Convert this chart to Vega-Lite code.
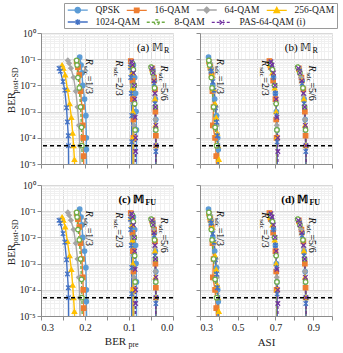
{
"$schema":"https://vega.github.io/schema/vega-lite/v6.json",
"padding":{"left":5,"right":5,"top":2,"bottom":3},
"config":{"font":"Liberation Serif","view":{"stroke":null},
 "legend":{"labelFont":"Liberation Serif","labelFontSize":9.5,"labelColor":"#222","symbolSize":25,"symbolOffset":7,"labelOffset":13,"columnPadding":3,"rowPadding":0,"symbolStrokeWidth":1.4,"padding":2},
 "axis":{"labelFont":"Liberation Serif","titleFont":"Liberation Serif","labelFontSize":10,"titleFontSize":11,"titleFontWeight":"normal","labelColor":"#222","titleColor":"#222","domainColor":"#8c8c8c","tickColor":"#8c8c8c","gridColor":"#d9d9d9","tickSize":4}},
"datasets":{
"d":[
{"s":"QPSK","r":"1/3","pre":0.212,"asi":0.345,"p":0.12},{"s":"QPSK","r":"1/3","pre":0.209,"asi":0.352,"p":0.06},{"s":"QPSK","r":"1/3","pre":0.207,"asi":0.36,"p":0.03},{"s":"QPSK","r":"1/3","pre":0.205,"asi":0.368,"p":0.01},{"s":"QPSK","r":"1/3","pre":0.201,"asi":0.378,"p":0.003},{"s":"QPSK","r":"1/3","pre":0.198,"asi":0.388,"p":0.0007},{"s":"QPSK","r":"1/3","pre":0.197,"asi":0.394,"p":0.0001},{"s":"QPSK","r":"1/3","pre":0.197,"asi":0.397,"p":0.000036},{"s":"QPSK","r":"1/3","pre":0.196,"asi":0.399,"p":0.000005},
{"s":"16-QAM","r":"1/3","pre":0.219,"asi":0.348,"p":0.08},{"s":"16-QAM","r":"1/3","pre":0.216,"asi":0.355,"p":0.05},{"s":"16-QAM","r":"1/3","pre":0.213,"asi":0.362,"p":0.025},{"s":"16-QAM","r":"1/3","pre":0.21,"asi":0.366,"p":0.006},{"s":"16-QAM","r":"1/3","pre":0.207,"asi":0.372,"p":0.0015},{"s":"16-QAM","r":"1/3","pre":0.205,"asi":0.368,"p":0.0003},{"s":"16-QAM","r":"1/3","pre":0.204,"asi":0.38,"p":0.0001},{"s":"16-QAM","r":"1/3","pre":0.203,"asi":0.386,"p":0.00002},{"s":"16-QAM","r":"1/3","pre":0.203,"asi":0.39,"p":0.000005},
{"s":"64-QAM","r":"1/3","pre":0.239,"asi":0.35,"p":0.09},{"s":"64-QAM","r":"1/3","pre":0.236,"asi":0.355,"p":0.07},{"s":"64-QAM","r":"1/3","pre":0.232,"asi":0.361,"p":0.045},{"s":"64-QAM","r":"1/3","pre":0.226,"asi":0.368,"p":0.02},{"s":"64-QAM","r":"1/3","pre":0.221,"asi":0.376,"p":0.006},{"s":"64-QAM","r":"1/3","pre":0.217,"asi":0.384,"p":0.0015},{"s":"64-QAM","r":"1/3","pre":0.214,"asi":0.39,"p":0.0003},{"s":"64-QAM","r":"1/3","pre":0.212,"asi":0.394,"p":0.00005},{"s":"64-QAM","r":"1/3","pre":0.211,"asi":0.396,"p":0.000005},
{"s":"256-QAM","r":"1/3","pre":0.252,"asi":0.352,"p":0.06},{"s":"256-QAM","r":"1/3","pre":0.249,"asi":0.357,"p":0.045},{"s":"256-QAM","r":"1/3","pre":0.245,"asi":0.363,"p":0.025},{"s":"256-QAM","r":"1/3","pre":0.24,"asi":0.372,"p":0.007},{"s":"256-QAM","r":"1/3","pre":0.235,"asi":0.38,"p":0.002},{"s":"256-QAM","r":"1/3","pre":0.231,"asi":0.386,"p":0.0006},{"s":"256-QAM","r":"1/3","pre":0.228,"asi":0.392,"p":0.00015},{"s":"256-QAM","r":"1/3","pre":0.226,"asi":0.396,"p":0.00005},{"s":"256-QAM","r":"1/3","pre":0.224,"asi":0.4,"p":0.000015},{"s":"256-QAM","r":"1/3","pre":0.223,"asi":0.401,"p":0.000005},
{"s":"1024-QAM","r":"1/3","pre":0.259,"asi":0.356,"p":0.045},{"s":"1024-QAM","r":"1/3","pre":0.256,"asi":0.36,"p":0.035},{"s":"1024-QAM","r":"1/3","pre":0.25,"asi":0.368,"p":0.014},{"s":"1024-QAM","r":"1/3","pre":0.246,"asi":0.374,"p":0.0066},{"s":"1024-QAM","r":"1/3","pre":0.242,"asi":0.382,"p":0.0014},{"s":"1024-QAM","r":"1/3","pre":0.24,"asi":0.388,"p":0.0004},{"s":"1024-QAM","r":"1/3","pre":0.238,"asi":0.392,"p":0.00012},{"s":"1024-QAM","r":"1/3","pre":0.2375,"asi":0.395,"p":0.00005},{"s":"1024-QAM","r":"1/3","pre":0.237,"asi":0.397,"p":0.000005},
{"s":"8-QAM","r":"1/3","pre":0.219,"asi":0.347,"p":0.09},{"s":"8-QAM","r":"1/3","pre":0.218,"asi":0.351,"p":0.06},{"s":"8-QAM","r":"1/3","pre":0.216,"asi":0.36,"p":0.02},{"s":"8-QAM","r":"1/3","pre":0.213,"asi":0.364,"p":0.008},{"s":"8-QAM","r":"1/3","pre":0.21,"asi":0.372,"p":0.0015},{"s":"8-QAM","r":"1/3","pre":0.208,"asi":0.38,"p":0.00025},{"s":"8-QAM","r":"1/3","pre":0.207,"asi":0.388,"p":0.00005},{"s":"8-QAM","r":"1/3","pre":0.206,"asi":0.392,"p":0.000005},
{"s":"QPSK","r":"2/3","pre":0.09,"asi":0.676,"p":0.06},{"s":"QPSK","r":"2/3","pre":0.087,"asi":0.69,"p":0.02},{"s":"QPSK","r":"2/3","pre":0.085,"asi":0.7,"p":0.005},{"s":"QPSK","r":"2/3","pre":0.084,"asi":0.705,"p":0.001},{"s":"QPSK","r":"2/3","pre":0.083,"asi":0.708,"p":0.0002},{"s":"QPSK","r":"2/3","pre":0.083,"asi":0.71,"p":0.000005},
{"s":"16-QAM","r":"2/3","pre":0.096,"asi":0.668,"p":0.085},{"s":"16-QAM","r":"2/3","pre":0.094,"asi":0.675,"p":0.05},{"s":"16-QAM","r":"2/3","pre":0.092,"asi":0.688,"p":0.015},{"s":"16-QAM","r":"2/3","pre":0.091,"asi":0.7,"p":0.003},{"s":"16-QAM","r":"2/3","pre":0.09,"asi":0.704,"p":0.0005},{"s":"16-QAM","r":"2/3","pre":0.09,"asi":0.706,"p":0.0001},{"s":"16-QAM","r":"2/3","pre":0.09,"asi":0.708,"p":0.000005},
{"s":"64-QAM","r":"2/3","pre":0.095,"asi":0.67,"p":0.075},{"s":"64-QAM","r":"2/3","pre":0.093,"asi":0.68,"p":0.04},{"s":"64-QAM","r":"2/3","pre":0.091,"asi":0.692,"p":0.01},{"s":"64-QAM","r":"2/3","pre":0.09,"asi":0.702,"p":0.002},{"s":"64-QAM","r":"2/3","pre":0.089,"asi":0.707,"p":0.0003},{"s":"64-QAM","r":"2/3","pre":0.089,"asi":0.709,"p":0.000005},
{"s":"256-QAM","r":"2/3","pre":0.095,"asi":0.672,"p":0.06},{"s":"256-QAM","r":"2/3","pre":0.093,"asi":0.684,"p":0.03},{"s":"256-QAM","r":"2/3","pre":0.092,"asi":0.696,"p":0.008},{"s":"256-QAM","r":"2/3","pre":0.091,"asi":0.704,"p":0.001},{"s":"256-QAM","r":"2/3","pre":0.091,"asi":0.708,"p":0.0001},{"s":"256-QAM","r":"2/3","pre":0.091,"asi":0.709,"p":0.000005},
{"s":"1024-QAM","r":"2/3","pre":0.097,"asi":0.678,"p":0.05},{"s":"1024-QAM","r":"2/3","pre":0.096,"asi":0.69,"p":0.02},{"s":"1024-QAM","r":"2/3","pre":0.095,"asi":0.7,"p":0.005},{"s":"1024-QAM","r":"2/3","pre":0.094,"asi":0.706,"p":0.0007},{"s":"1024-QAM","r":"2/3","pre":0.094,"asi":0.709,"p":0.00007},{"s":"1024-QAM","r":"2/3","pre":0.094,"asi":0.71,"p":0.000005},
{"s":"8-QAM","r":"2/3","pre":0.092,"asi":0.674,"p":0.07},{"s":"8-QAM","r":"2/3","pre":0.09,"asi":0.684,"p":0.04},{"s":"8-QAM","r":"2/3","pre":0.088,"asi":0.696,"p":0.01},{"s":"8-QAM","r":"2/3","pre":0.087,"asi":0.704,"p":0.002},{"s":"8-QAM","r":"2/3","pre":0.086,"asi":0.708,"p":0.0002},{"s":"8-QAM","r":"2/3","pre":0.086,"asi":0.71,"p":0.000005},
{"s":"PAS-64-QAM (i)","r":"2/3","pre":0.094,"asi":0.676,"p":0.08},{"s":"PAS-64-QAM (i)","r":"2/3","pre":0.092,"asi":0.682,"p":0.06},{"s":"PAS-64-QAM (i)","r":"2/3","pre":0.09,"asi":0.69,"p":0.03},{"s":"PAS-64-QAM (i)","r":"2/3","pre":0.088,"asi":0.698,"p":0.01},{"s":"PAS-64-QAM (i)","r":"2/3","pre":0.087,"asi":0.704,"p":0.003},{"s":"PAS-64-QAM (i)","r":"2/3","pre":0.086,"asi":0.708,"p":0.0006},{"s":"PAS-64-QAM (i)","r":"2/3","pre":0.085,"asi":0.712,"p":0.0001},{"s":"PAS-64-QAM (i)","r":"2/3","pre":0.085,"asi":0.713,"p":0.00003},{"s":"PAS-64-QAM (i)","r":"2/3","pre":0.085,"asi":0.713,"p":0.000005},
{"s":"QPSK","r":"5/6","pre":0.046,"asi":0.826,"p":0.04},{"s":"QPSK","r":"5/6","pre":0.042,"asi":0.842,"p":0.015},{"s":"QPSK","r":"5/6","pre":0.04,"asi":0.852,"p":0.003},{"s":"QPSK","r":"5/6","pre":0.039,"asi":0.858,"p":0.0005},{"s":"QPSK","r":"5/6","pre":0.038,"asi":0.862,"p":0.00005},{"s":"QPSK","r":"5/6","pre":0.038,"asi":0.863,"p":0.000005},
{"s":"16-QAM","r":"5/6","pre":0.047,"asi":0.824,"p":0.045},{"s":"16-QAM","r":"5/6","pre":0.043,"asi":0.838,"p":0.02},{"s":"16-QAM","r":"5/6","pre":0.041,"asi":0.848,"p":0.007},{"s":"16-QAM","r":"5/6","pre":0.04,"asi":0.856,"p":0.001},{"s":"16-QAM","r":"5/6","pre":0.039,"asi":0.86,"p":0.00012},{"s":"16-QAM","r":"5/6","pre":0.039,"asi":0.862,"p":0.000005},
{"s":"64-QAM","r":"5/6","pre":0.048,"asi":0.822,"p":0.05},{"s":"64-QAM","r":"5/6","pre":0.044,"asi":0.836,"p":0.02},{"s":"64-QAM","r":"5/6","pre":0.041,"asi":0.85,"p":0.004},{"s":"64-QAM","r":"5/6","pre":0.04,"asi":0.857,"p":0.0005},{"s":"64-QAM","r":"5/6","pre":0.039,"asi":0.861,"p":0.00005},{"s":"64-QAM","r":"5/6","pre":0.039,"asi":0.862,"p":0.000005},
{"s":"256-QAM","r":"5/6","pre":0.047,"asi":0.825,"p":0.04},{"s":"256-QAM","r":"5/6","pre":0.043,"asi":0.84,"p":0.015},{"s":"256-QAM","r":"5/6","pre":0.041,"asi":0.851,"p":0.003},{"s":"256-QAM","r":"5/6","pre":0.04,"asi":0.857,"p":0.0003},{"s":"256-QAM","r":"5/6","pre":0.039,"asi":0.861,"p":0.00005},{"s":"256-QAM","r":"5/6","pre":0.039,"asi":0.862,"p":0.000005},
{"s":"1024-QAM","r":"5/6","pre":0.046,"asi":0.828,"p":0.035},{"s":"1024-QAM","r":"5/6","pre":0.043,"asi":0.841,"p":0.012},{"s":"1024-QAM","r":"5/6","pre":0.041,"asi":0.852,"p":0.002},{"s":"1024-QAM","r":"5/6","pre":0.04,"asi":0.858,"p":0.0002},{"s":"1024-QAM","r":"5/6","pre":0.039,"asi":0.861,"p":0.00003},{"s":"1024-QAM","r":"5/6","pre":0.039,"asi":0.862,"p":0.000005},
{"s":"8-QAM","r":"5/6","pre":0.05,"asi":0.818,"p":0.05},{"s":"8-QAM","r":"5/6","pre":0.046,"asi":0.83,"p":0.03},{"s":"8-QAM","r":"5/6","pre":0.042,"asi":0.846,"p":0.008},{"s":"8-QAM","r":"5/6","pre":0.04,"asi":0.855,"p":0.0015},{"s":"8-QAM","r":"5/6","pre":0.039,"asi":0.86,"p":0.0002},{"s":"8-QAM","r":"5/6","pre":0.039,"asi":0.862,"p":0.000005},
{"s":"PAS-64-QAM (i)","r":"5/6","pre":0.048,"asi":0.822,"p":0.045},{"s":"PAS-64-QAM (i)","r":"5/6","pre":0.045,"asi":0.83,"p":0.03},{"s":"PAS-64-QAM (i)","r":"5/6","pre":0.043,"asi":0.84,"p":0.015},{"s":"PAS-64-QAM (i)","r":"5/6","pre":0.041,"asi":0.849,"p":0.005},{"s":"PAS-64-QAM (i)","r":"5/6","pre":0.04,"asi":0.855,"p":0.0015},{"s":"PAS-64-QAM (i)","r":"5/6","pre":0.039,"asi":0.859,"p":0.0003},{"s":"PAS-64-QAM (i)","r":"5/6","pre":0.039,"asi":0.862,"p":0.00005},{"s":"PAS-64-QAM (i)","r":"5/6","pre":0.039,"asi":0.863,"p":0.000005}
],
"thr":[{"t":0.00005}],
"lab":[{"r":"1/3","rv":"=1/3","pre":0.191,"asi":0.406,"p":0.105},{"r":"2/3","rv":"=2/3","pre":0.122,"asi":0.644,"p":0.091},{"r":"5/6","rv":"=5/6","pre":0.02,"asi":0.895,"p":0.058}],
"pl":[{"panel":"a","t":"(a) 𝕄","sub":"R","pre":0.023,"p":0.27},{"panel":"b","t":"(b) 𝕄","sub":"R","asi":0.891,"p":0.27},{"panel":"c","t":"(c) 𝕄","sub":"FU","pre":0.065,"p":0.27},{"panel":"d","t":"(d) 𝕄","sub":"FU","asi":0.875,"p":0.27}]
},
"columns":2,
"spacing":{"row":21,"column":27},
"bounds":"flush",
"concat":[
{"width":132,"height":131,"resolve":{"axis":{"x":"independent","y":"independent"}},
"layer":[
{"data":{"name":"d"},"mark":{"type":"line","strokeWidth":1.4,"clip":true},
"encoding":{"x":{"field":"pre","type":"quantitative","scale":{"domain":[0,0.3],"reverse":true,"nice":false,"zero":false},"axis":{"orient":"bottom","values":[0,0.05,0.1,0.15,0.2,0.25,0.3],"labels":false,"title":null,"grid":true}},
"y":{"field":"p","type":"quantitative","scale":{"type":"log","domain":[0.00001,1],"nice":false},"axis":{"orient":"left","values":[0.00001,0.0001,0.001,0.01,0.1,1],"labelExpr":"['10⁻⁵','10⁻⁴','10⁻³','10⁻²','10⁻¹','10⁰'][round(log(datum.value)/LN10)+5]","labelFontSize":9.5,"grid":true,"title":"BER","titleX":-30,"titleY":69,"titleBaseline":"middle","titleAngle":-90}},
"color":{"field":"s","type":"nominal","scale":{"domain":["QPSK","16-QAM","64-QAM","256-QAM","1024-QAM","8-QAM","PAS-64-QAM (i)"],"range":["#5B9BD5","#ED7D31","#A5A5A5","#FFC000","#4472C4","#70AD47","#7030A0"]},
"legend":{"orient":"none","legendX":23,"legendY":-30,"direction":"horizontal","values":["QPSK","16-QAM","64-QAM","256-QAM"],"title":" ","titleOrient":"bottom","titleFontSize":8,"titlePadding":2,"strokeColor":"#9a9a9a",
"encoding":{"symbols":{
"shape":{"value":{"expr":"({'QPSK':'M-4,0H4M1.05,0A1.05,1.05,0,1,1,-1.05,0A1.05,1.05,0,1,1,1.05,0Z','16-QAM':'M-4,0H4M-0.9,-0.9H0.9V0.9H-0.9Z','64-QAM':'M-4,0H4M0,-1.15L1.15,0L0,1.15L-1.15,0Z','256-QAM':'M-4,0H4M0,-1.15L1.1,0.9H-1.1Z'})[datum.value]"}},
"fill":{"value":{"expr":"({'QPSK':'#5B9BD5','16-QAM':'#ED7D31','64-QAM':'#A5A5A5','256-QAM':'#FFC000'})[datum.value]"}},
"strokeDash":{"value":[1,0]},
"strokeWidth":{"value":1.4},
"opacity":{"value":1}}}}},
"strokeDash":{"field":"s","type":"nominal","scale":{"domain":["1024-QAM","16-QAM","256-QAM","64-QAM","8-QAM","PAS-64-QAM (i)","QPSK"],"range":[[1,0],[1,0],[1,0],[1,0],[3,2],[3,2],[1,0]]},
"legend":{"orient":"none","legendX":23,"legendY":-18,"direction":"horizontal","values":["1024-QAM","8-QAM","PAS-64-QAM (i)"],"title":null,
"encoding":{"symbols":{
"shape":{"value":{"expr":"({'1024-QAM':'M-4,0H4M-0.85,-0.85L0.85,0.85M-0.85,0.85L0.85,-0.85M0,-1.15V1.15','8-QAM':'M-4,0H4M1,0A1,1,0,1,1,-1,0A1,1,0,1,1,1,0Z','PAS-64-QAM (i)':'M-4,0H4M-0.85,-0.85L0.85,0.85M-0.85,0.85L0.85,-0.85'})[datum.value]"}},
"fill":{"value":{"expr":"datum.value==='8-QAM' ? 'white' : ({'1024-QAM':'#4472C4','PAS-64-QAM (i)':'#7030A0'})[datum.value]"}},
"stroke":{"value":{"expr":"({'1024-QAM':'#4472C4','8-QAM':'#70AD47','PAS-64-QAM (i)':'#7030A0'})[datum.value]"}},
"strokeWidth":{"value":1.4},
"opacity":{"value":1}}}}},
"detail":{"field":"r"},"order":{"field":"p","type":"quantitative"}}},
{"data":{"name":"d"},"mark":{"type":"point","filled":false,"size":20,"strokeWidth":1.2,"opacity":1,"clip":true},
"encoding":{"x":{"field":"pre","type":"quantitative","axis":{"orient":"bottom","values":[0.01,0.02,0.03,0.04,0.06,0.07,0.08,0.09,0.11,0.12,0.13,0.14,0.16,0.17,0.18,0.19,0.21,0.22,0.23,0.24,0.26,0.27,0.28,0.29],"labels":false,"ticks":false,"domain":false,"grid":true,"gridColor":"#f0f0f0","title":null}},
"y":{"field":"p","type":"quantitative","axis":{"orient":"left","values":[0.00002,0.00003,0.00004,0.00005,0.00006,0.00007,0.00008,0.00009,0.0002,0.0003,0.0004,0.0005,0.0006,0.0007,0.0008,0.0009,0.002,0.003,0.004,0.005,0.006,0.007,0.008,0.009,0.02,0.03,0.04,0.05,0.06,0.07,0.08,0.09,0.2,0.3,0.4,0.5,0.6,0.7,0.8,0.9],"labels":false,"ticks":false,"domain":false,"grid":true,"gridColor":"#f0f0f0","title":"post-SD","titleFontSize":8,"titleX":-26,"titleY":47,"titleBaseline":"middle","titleAngle":-90}},
"color":{"field":"s","type":"nominal","legend":null},
"shape":{"field":"s","type":"nominal","scale":{"domain":["QPSK","PAS-64-QAM (i)","8-QAM","64-QAM","256-QAM","16-QAM","1024-QAM"],"range":["circle","M-1,-1L1,1M-1,1L1,-1","circle","diamond","triangle-up","square","M-1,-1L1,1M-1,1L1,-1M0,-1.3V1.3"]},"legend":null},
"fill":{"field":"s","type":"nominal","scale":{"domain":["8-QAM","QPSK","16-QAM","64-QAM","256-QAM","1024-QAM","PAS-64-QAM (i)"],"range":["#ffffff","#5B9BD5","#ED7D31","#A5A5A5","#FFC000","#4472C4","#7030A0"]},"legend":null}}},
{"data":{"name":"thr"},"mark":{"type":"rule","color":"black","strokeDash":[4,3],"strokeWidth":1.4},"encoding":{"y":{"field":"t","type":"quantitative","axis":null}}},
{"data":{"name":"lab"},"mark":{"type":"text","angle":90,"align":"left","baseline":"middle","fontSize":10,"fontStyle":"italic"},"encoding":{"x":{"field":"pre","type":"quantitative","axis":null},"y":{"field":"p","type":"quantitative","axis":null},"text":{"value":"R"}}},
{"data":{"name":"lab"},"mark":{"type":"text","angle":90,"align":"left","baseline":"middle","fontSize":7,"dx":7,"dy":3},"encoding":{"x":{"field":"pre","type":"quantitative","axis":null},"y":{"field":"p","type":"quantitative","axis":null},"text":{"value":"sdc"}}},
{"data":{"name":"lab"},"mark":{"type":"text","angle":90,"align":"left","baseline":"middle","fontSize":10,"dx":17},"encoding":{"x":{"field":"pre","type":"quantitative","axis":null},"y":{"field":"p","type":"quantitative","axis":null},"text":{"field":"rv"}}},
{"data":{"name":"pl"},"transform":[{"filter":"datum.panel==='a'"}],"mark":{"type":"text","align":"right","baseline":"middle","fontSize":11},"encoding":{"x":{"field":"pre","type":"quantitative","axis":null},"y":{"field":"p","type":"quantitative","axis":null},"text":{"field":"t"}}},
{"data":{"name":"pl"},"transform":[{"filter":"datum.panel==='a'"}],"mark":{"type":"text","align":"left","baseline":"middle","fontSize":8,"dx":1,"dy":3},"encoding":{"x":{"field":"pre","type":"quantitative","axis":null},"y":{"field":"p","type":"quantitative","axis":null},"text":{"field":"sub"}}}
]},
{"width":132,"height":131,"resolve":{"axis":{"x":"independent","y":"independent"}},
"layer":[
{"data":{"name":"d"},"mark":{"type":"line","strokeWidth":1.4,"clip":true},
"encoding":{"x":{"field":"asi","type":"quantitative","scale":{"domain":[0.3,1.0],"nice":false,"zero":false},"axis":{"orient":"bottom","values":[0.3,0.4,0.5,0.6,0.7,0.8,0.9,1.0],"labels":false,"title":null,"grid":true}},
"y":{"field":"p","type":"quantitative","scale":{"type":"log","domain":[0.00001,1],"nice":false},"axis":{"orient":"left","values":[0.00001,0.0001,0.001,0.01,0.1,1],"labels":false,"grid":true,"title":null}},
"color":{"field":"s","type":"nominal","legend":null},
"strokeDash":{"field":"s","type":"nominal","legend":null},
"detail":{"field":"r"},"order":{"field":"p","type":"quantitative"}}},
{"data":{"name":"d"},"mark":{"type":"point","filled":false,"size":20,"strokeWidth":1.2,"opacity":1,"clip":true},
"encoding":{"x":{"field":"asi","type":"quantitative","axis":{"orient":"bottom","values":[0.32,0.34,0.36,0.38,0.42,0.44,0.46,0.48,0.52,0.54,0.56,0.58,0.62,0.64,0.66,0.68,0.72,0.74,0.76,0.78,0.82,0.84,0.86,0.88,0.92,0.94,0.96,0.98],"labels":false,"ticks":false,"domain":false,"grid":true,"gridColor":"#f0f0f0","title":null}},
"y":{"field":"p","type":"quantitative","axis":{"orient":"left","values":[0.00002,0.00003,0.00004,0.00005,0.00006,0.00007,0.00008,0.00009,0.0002,0.0003,0.0004,0.0005,0.0006,0.0007,0.0008,0.0009,0.002,0.003,0.004,0.005,0.006,0.007,0.008,0.009,0.02,0.03,0.04,0.05,0.06,0.07,0.08,0.09,0.2,0.3,0.4,0.5,0.6,0.7,0.8,0.9],"labels":false,"ticks":false,"domain":false,"grid":true,"gridColor":"#f0f0f0","title":null}},
"color":{"field":"s","type":"nominal","legend":null},
"shape":{"field":"s","type":"nominal","legend":null},
"fill":{"field":"s","type":"nominal","legend":null}}},
{"data":{"name":"thr"},"mark":{"type":"rule","color":"black","strokeDash":[4,3],"strokeWidth":1.4},"encoding":{"y":{"field":"t","type":"quantitative","axis":null}}},
{"data":{"name":"lab"},"mark":{"type":"text","angle":90,"align":"left","baseline":"middle","fontSize":10,"fontStyle":"italic"},"encoding":{"x":{"field":"asi","type":"quantitative","axis":null},"y":{"field":"p","type":"quantitative","axis":null},"text":{"value":"R"}}},
{"data":{"name":"lab"},"mark":{"type":"text","angle":90,"align":"left","baseline":"middle","fontSize":7,"dx":7,"dy":3},"encoding":{"x":{"field":"asi","type":"quantitative","axis":null},"y":{"field":"p","type":"quantitative","axis":null},"text":{"value":"sdc"}}},
{"data":{"name":"lab"},"mark":{"type":"text","angle":90,"align":"left","baseline":"middle","fontSize":10,"dx":17},"encoding":{"x":{"field":"asi","type":"quantitative","axis":null},"y":{"field":"p","type":"quantitative","axis":null},"text":{"field":"rv"}}},
{"data":{"name":"pl"},"transform":[{"filter":"datum.panel==='b'"}],"mark":{"type":"text","align":"right","baseline":"middle","fontSize":11},"encoding":{"x":{"field":"asi","type":"quantitative","axis":null},"y":{"field":"p","type":"quantitative","axis":null},"text":{"field":"t"}}},
{"data":{"name":"pl"},"transform":[{"filter":"datum.panel==='b'"}],"mark":{"type":"text","align":"left","baseline":"middle","fontSize":8,"dx":1,"dy":3},"encoding":{"x":{"field":"asi","type":"quantitative","axis":null},"y":{"field":"p","type":"quantitative","axis":null},"text":{"field":"sub"}}}
]},
{"width":132,"height":131,"resolve":{"axis":{"x":"independent","y":"independent"}},
"layer":[
{"data":{"name":"d"},"mark":{"type":"line","strokeWidth":1.4,"clip":true},
"encoding":{"x":{"field":"pre","type":"quantitative","scale":{"domain":[0,0.3],"reverse":true,"nice":false,"zero":false},"axis":{"orient":"bottom","values":[0,0.05,0.1,0.15,0.2,0.25,0.3],"labelExpr":"round(datum.value*100)%10==0 ? format(datum.value,'.1f') : ''","grid":true,"title":"BER","titleX":74,"titleY":25,"titleBaseline":"middle"}},
"y":{"field":"p","type":"quantitative","scale":{"type":"log","domain":[0.00001,1],"nice":false},"axis":{"orient":"left","values":[0.00001,0.0001,0.001,0.01,0.1,1],"labelExpr":"['10⁻⁵','10⁻⁴','10⁻³','10⁻²','10⁻¹','10⁰'][round(log(datum.value)/LN10)+5]","labelFontSize":9.5,"grid":true,"title":"BER","titleX":-30,"titleY":69,"titleBaseline":"middle","titleAngle":-90}},
"color":{"field":"s","type":"nominal","legend":null},
"strokeDash":{"field":"s","type":"nominal","legend":null},
"detail":{"field":"r"},"order":{"field":"p","type":"quantitative"}}},
{"data":{"name":"d"},"mark":{"type":"point","filled":false,"size":20,"strokeWidth":1.2,"opacity":1,"clip":true},
"encoding":{"x":{"field":"pre","type":"quantitative","axis":{"orient":"bottom","values":[0.01,0.02,0.03,0.04,0.06,0.07,0.08,0.09,0.11,0.12,0.13,0.14,0.16,0.17,0.18,0.19,0.21,0.22,0.23,0.24,0.26,0.27,0.28,0.29],"labels":false,"ticks":false,"domain":false,"grid":true,"gridColor":"#f0f0f0","title":"pre","titleFontSize":8,"titleX":92,"titleY":28,"titleBaseline":"middle"}},
"y":{"field":"p","type":"quantitative","axis":{"orient":"left","values":[0.00002,0.00003,0.00004,0.00005,0.00006,0.00007,0.00008,0.00009,0.0002,0.0003,0.0004,0.0005,0.0006,0.0007,0.0008,0.0009,0.002,0.003,0.004,0.005,0.006,0.007,0.008,0.009,0.02,0.03,0.04,0.05,0.06,0.07,0.08,0.09,0.2,0.3,0.4,0.5,0.6,0.7,0.8,0.9],"labels":false,"ticks":false,"domain":false,"grid":true,"gridColor":"#f0f0f0","title":"post-SD","titleFontSize":8,"titleX":-26,"titleY":47,"titleBaseline":"middle","titleAngle":-90}},
"color":{"field":"s","type":"nominal","legend":null},
"shape":{"field":"s","type":"nominal","legend":null},
"fill":{"field":"s","type":"nominal","legend":null}}},
{"data":{"name":"thr"},"mark":{"type":"rule","color":"black","strokeDash":[4,3],"strokeWidth":1.4},"encoding":{"y":{"field":"t","type":"quantitative","axis":null}}},
{"data":{"name":"lab"},"mark":{"type":"text","angle":90,"align":"left","baseline":"middle","fontSize":10,"fontStyle":"italic"},"encoding":{"x":{"field":"pre","type":"quantitative","axis":null},"y":{"field":"p","type":"quantitative","axis":null},"text":{"value":"R"}}},
{"data":{"name":"lab"},"mark":{"type":"text","angle":90,"align":"left","baseline":"middle","fontSize":7,"dx":7,"dy":3},"encoding":{"x":{"field":"pre","type":"quantitative","axis":null},"y":{"field":"p","type":"quantitative","axis":null},"text":{"value":"sdc"}}},
{"data":{"name":"lab"},"mark":{"type":"text","angle":90,"align":"left","baseline":"middle","fontSize":10,"dx":17},"encoding":{"x":{"field":"pre","type":"quantitative","axis":null},"y":{"field":"p","type":"quantitative","axis":null},"text":{"field":"rv"}}},
{"data":{"name":"pl"},"transform":[{"filter":"datum.panel==='c'"}],"mark":{"type":"text","align":"right","baseline":"middle","fontSize":11,"fontWeight":"bold"},"encoding":{"x":{"field":"pre","type":"quantitative","axis":null},"y":{"field":"p","type":"quantitative","axis":null},"text":{"field":"t"}}},
{"data":{"name":"pl"},"transform":[{"filter":"datum.panel==='c'"}],"mark":{"type":"text","align":"left","baseline":"middle","fontSize":8,"fontWeight":"bold","dx":1,"dy":3},"encoding":{"x":{"field":"pre","type":"quantitative","axis":null},"y":{"field":"p","type":"quantitative","axis":null},"text":{"field":"sub"}}}
]},
{"width":132,"height":131,"resolve":{"axis":{"x":"independent","y":"independent"}},
"layer":[
{"data":{"name":"d"},"mark":{"type":"line","strokeWidth":1.4,"clip":true},
"encoding":{"x":{"field":"asi","type":"quantitative","scale":{"domain":[0.3,1.0],"nice":false,"zero":false},"axis":{"orient":"bottom","values":[0.3,0.4,0.5,0.6,0.7,0.8,0.9,1.0],"labelExpr":"round(datum.value*10)%2==1 ? format(datum.value,'.1f') : ''","grid":true,"title":"ASI"}},
"y":{"field":"p","type":"quantitative","scale":{"type":"log","domain":[0.00001,1],"nice":false},"axis":{"orient":"left","values":[0.00001,0.0001,0.001,0.01,0.1,1],"labels":false,"grid":true,"title":null}},
"color":{"field":"s","type":"nominal","legend":null},
"strokeDash":{"field":"s","type":"nominal","legend":null},
"detail":{"field":"r"},"order":{"field":"p","type":"quantitative"}}},
{"data":{"name":"d"},"mark":{"type":"point","filled":false,"size":20,"strokeWidth":1.2,"opacity":1,"clip":true},
"encoding":{"x":{"field":"asi","type":"quantitative","axis":{"orient":"bottom","values":[0.32,0.34,0.36,0.38,0.42,0.44,0.46,0.48,0.52,0.54,0.56,0.58,0.62,0.64,0.66,0.68,0.72,0.74,0.76,0.78,0.82,0.84,0.86,0.88,0.92,0.94,0.96,0.98],"labels":false,"ticks":false,"domain":false,"grid":true,"gridColor":"#f0f0f0","title":null}},
"y":{"field":"p","type":"quantitative","axis":{"orient":"left","values":[0.00002,0.00003,0.00004,0.00005,0.00006,0.00007,0.00008,0.00009,0.0002,0.0003,0.0004,0.0005,0.0006,0.0007,0.0008,0.0009,0.002,0.003,0.004,0.005,0.006,0.007,0.008,0.009,0.02,0.03,0.04,0.05,0.06,0.07,0.08,0.09,0.2,0.3,0.4,0.5,0.6,0.7,0.8,0.9],"labels":false,"ticks":false,"domain":false,"grid":true,"gridColor":"#f0f0f0","title":null}},
"color":{"field":"s","type":"nominal","legend":null},
"shape":{"field":"s","type":"nominal","legend":null},
"fill":{"field":"s","type":"nominal","legend":null}}},
{"data":{"name":"thr"},"mark":{"type":"rule","color":"black","strokeDash":[4,3],"strokeWidth":1.4},"encoding":{"y":{"field":"t","type":"quantitative","axis":null}}},
{"data":{"name":"lab"},"mark":{"type":"text","angle":90,"align":"left","baseline":"middle","fontSize":10,"fontStyle":"italic"},"encoding":{"x":{"field":"asi","type":"quantitative","axis":null},"y":{"field":"p","type":"quantitative","axis":null},"text":{"value":"R"}}},
{"data":{"name":"lab"},"mark":{"type":"text","angle":90,"align":"left","baseline":"middle","fontSize":7,"dx":7,"dy":3},"encoding":{"x":{"field":"asi","type":"quantitative","axis":null},"y":{"field":"p","type":"quantitative","axis":null},"text":{"value":"sdc"}}},
{"data":{"name":"lab"},"mark":{"type":"text","angle":90,"align":"left","baseline":"middle","fontSize":10,"dx":17},"encoding":{"x":{"field":"asi","type":"quantitative","axis":null},"y":{"field":"p","type":"quantitative","axis":null},"text":{"field":"rv"}}},
{"data":{"name":"pl"},"transform":[{"filter":"datum.panel==='d'"}],"mark":{"type":"text","align":"right","baseline":"middle","fontSize":11,"fontWeight":"bold"},"encoding":{"x":{"field":"asi","type":"quantitative","axis":null},"y":{"field":"p","type":"quantitative","axis":null},"text":{"field":"t"}}},
{"data":{"name":"pl"},"transform":[{"filter":"datum.panel==='d'"}],"mark":{"type":"text","align":"left","baseline":"middle","fontSize":8,"fontWeight":"bold","dx":1,"dy":3},"encoding":{"x":{"field":"asi","type":"quantitative","axis":null},"y":{"field":"p","type":"quantitative","axis":null},"text":{"field":"sub"}}}
]}
]
}
